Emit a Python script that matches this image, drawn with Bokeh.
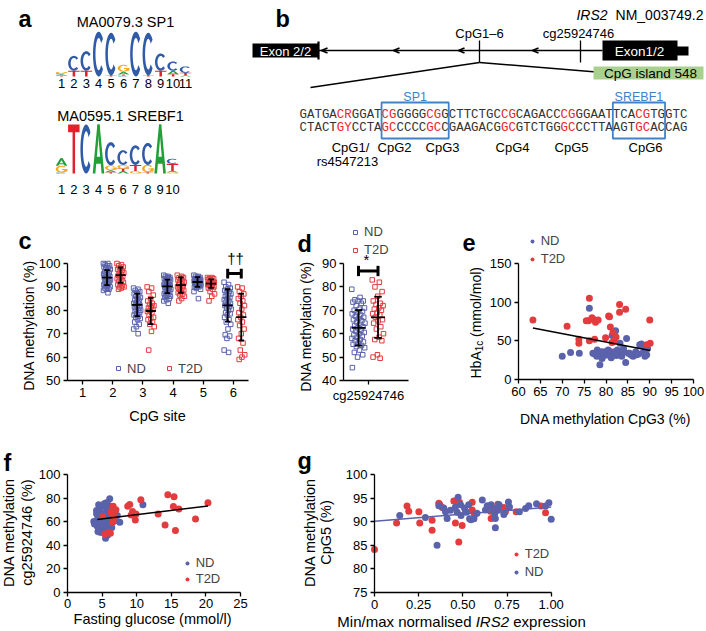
import numpy as np
from bokeh.plotting import figure
from bokeh.models import Range1d, Label, Legend, LegendItem, FixedTicker, LinearAxis
from bokeh.embed import file_html
from bokeh.resources import INLINE
from bokeh.core.properties import value

FONT = "Liberation Sans"
MONO = "Liberation Mono"
ND_C = "#5a62ab"
T2D_C = "#e33b3e"
LETTER_SIZE = "23.5px"

# ---------------- data ----------------
# (a) motif logos: letters stacked bottom->top and their heights in bits
sp1_title = "MA0079.3 SP1"
sp1_positions = [str(i) for i in range(1, 12)]
sp1_letters = ["TACG", "TC", "TC", "C", "TC", "CTAG", "C", "TC", "TC", "TAC", "ATC"]
sp1_bits = [[0.04, 0.05, 0.05, 0.06], [0.25, 0.65], [0.25, 0.85], [1.95], [0.05, 1.85],
            [0.04, 0.05, 0.12, 0.3], [1.95], [0.05, 1.85], [0.25, 0.75], [0.1, 0.15, 0.4],
            [0.04, 0.12, 0.28]]
srebf1_title = "MA0595.1 SREBF1"
srebf1_positions = [str(i) for i in range(1, 11)]
srebf1_letters = ["CGA", "T", "C", "A", "TAGC", "ATGC", "GTC", "TGC", "A", "GATC"]
srebf1_bits = [[0.04, 0.28, 0.3], [2.0], [2.0], [2.0], [0.05, 0.08, 0.2, 0.95],
               [0.1, 0.1, 0.15, 0.6], [0.1, 0.25, 0.8], [0.05, 0.3, 0.9], [2.0],
               [0.05, 0.05, 0.3, 0.2]]

# (b) sequence
seq_top = "GATGACRGGATCGGGGGCGGCTTCTGCCGCAGACCCGGGAATTCACGTGGTC"
seq_bottom = "CTACTGYCCTAGCCCCCGCCGAAGACGGCGTCTGGGCCCTTAAGTGCACCAG"
cpg_index = [5, 11, 17, 27, 35, 45]
cpg_names = ["CpG1/", "CpG2", "CpG3", "CpG4", "CpG5", "CpG6"]

# (c) DNA methylation per CpG site
c_sites = [1, 2, 3, 4, 5, 6]
c_data_sites = [2, 3, 4, 5, 6]
c_nd2 = [100, 100, 99.5, 99, 99, 98.5, 98, 98, 97.5, 97, 96.5, 96, 96, 95.5, 95, 95, 94.5, 94, 94,
         93.5, 93, 93, 92.5, 92, 92, 91.5, 91, 91, 90.5, 90, 90, 89.5, 89, 89, 88.5, 87.5]
c_nd3 = [89.5, 89, 88.5, 88, 87.5, 87, 86.5, 86, 85.5, 85, 84.5, 84, 83.5, 83, 83, 82.5, 82, 82,
         81.5, 81, 80.5, 80, 80, 79.5, 79, 78.5, 78, 77.5, 77, 76.5, 76, 75, 74, 73, 72, 70]
c_nd4 = [95, 94.5, 94.5, 94, 94, 93.5, 93.5, 93, 93, 92.5, 92, 92, 91.5, 91, 91, 90.5, 90.5, 90,
         90, 89.5, 89, 89, 88.5, 88, 88, 87.5, 87, 87, 86.5, 86, 86, 85.5, 85, 84.5, 84, 83]
c_nd5 = [95, 94.5, 94.5, 94, 94, 93.5, 93.5, 93.5, 93, 93, 93, 92.5, 92.5, 92.5, 92, 92, 92, 92,
         91.5, 91.5, 91.5, 91, 91, 91, 90.5, 90.5, 90, 90, 89.5, 89, 93, 92, 91, 90, 88, 85]
c_nd6 = [92, 91, 90, 89.5, 89, 88.5, 88, 87.5, 87, 86.5, 86, 85.5, 85, 84.5, 84, 83.5, 83, 82.5,
         82, 81.5, 81, 80.5, 80, 79, 78.5, 78, 77, 76, 75, 74, 72, 69.5, 69, 68, 63, 62]
c_t2d2 = [100, 99.5, 99, 98.5, 98, 97.5, 97, 96.5, 96, 95.5, 95, 94.5, 94, 93.5, 93, 92.5, 92,
          91.5, 91, 90.5, 90, 90, 89.5, 89]
c_t2d3 = [90, 89.5, 88, 86.5, 85, 84, 83, 82.5, 82, 81.5, 81, 80.5, 80, 79.5, 79, 78, 77, 76.5,
          76, 75, 74, 73, 71, 63]
c_t2d4 = [95, 94.5, 94, 94, 93.5, 93, 92.5, 92, 92, 91.5, 91, 90.5, 90, 90, 89.5, 89, 88.5, 88,
          87.5, 87, 86.5, 86, 85, 84]
c_t2d5 = [94, 94, 93.5, 93.5, 93, 93, 92.5, 92.5, 92, 92, 91.5, 91.5, 91, 91, 90.5, 90.5, 90, 90,
          89.5, 89, 88, 87, 86, 84]
c_t2d6 = [90, 89.5, 88, 87, 86, 85, 84, 83, 82, 80.5, 79, 78, 77, 76, 75, 73.5, 72, 70, 68, 66,
          63, 61, 60, 59]
c_nd_mean = [94.0, 82.3, 90.2, 92.1, 82.1]
c_nd_sd = [3.2, 4.8, 2.9, 2.1, 6.9]
c_t2d_mean = [95.0, 79.7, 90.8, 91.4, 77.1]
c_t2d_sd = [3.3, 5.6, 3.3, 1.8, 10.0]
c_yticks = [50, 60, 70, 80, 90, 100]
c_sig_site = 6
c_sig_y = 95.7
c_sig_text = "††"

# (d) cg25924746
d_site = ["cg25924746"]
d_nd = [79, 75.5, 74.5, 74, 74, 73.5, 73, 72, 71, 70.5, 70, 69.5, 69, 68.5, 68, 67.5, 67, 66.5,
        66, 65.5, 65, 64.5, 64, 63.5, 63, 62.5, 62, 61.5, 61, 60.5, 60, 59.5, 59, 58.5, 58, 57.5,
        57, 56.5, 56, 55.5, 55, 54.5, 54, 53, 52, 51, 50, 45.5]
d_t2d = [83, 82, 80, 78, 76, 74, 73, 72.5, 72, 71, 70.5, 70, 69, 68.5, 68, 67, 66, 65.5, 64.5,
         63, 62, 60, 58.5, 57.5, 57, 51, 50, 49.5]
d_nd_mean, d_nd_sd = 62.5, 7.6
d_t2d_mean, d_t2d_sd = 67.0, 8.8
d_yticks = [40, 50, 60, 70, 80, 90]
d_sig_y = 86.8
d_sig_text = "*"

# (e) HbA1c vs CpG3 methylation
e_nd_x = [70.0, 71.9, 73.9, 76.2, 77.0, 77.4, 77.9, 78.4, 78.6, 79.1, 79.6, 79.3, 79.8, 80.3, 80.7,
          81.0, 81.5, 81.9, 82.4, 82.9, 83.3, 83.6, 84.1, 81.4, 82.2, 82.6, 83.2, 84.7, 84.5, 85.1,
          85.7, 86.2, 86.8, 87.4, 87.7, 88.1, 88.5, 88.9, 89.3, 89.5, 88.4, 87.0, 85.4, 80.5, 81.2,
          82.0, 79.0, 78.0, 86.0, 84.0]
e_nd_y = [30, 35, 34, 92, 34, 33, 30, 31, 19, 27, 31, 35, 36, 33, 37, 30, 34, 36, 31, 35, 33, 30,
          36, 57, 63, 38, 47, 53, 22, 34, 32, 30, 36, 33, 45, 46, 35, 30, 32, 40, 44, 32, 34, 38,
          28, 32, 36, 38, 31, 40]
e_t2d_x = [63.3, 71.1, 73.8, 73.8, 75.5, 76.0, 76.2, 76.2, 76.8, 77.1, 77.6, 78.2, 77.4, 79.9,
           80.6, 80.8, 81.0, 81.6, 81.4, 81.9, 82.3, 83.1, 83.1, 84.5, 90.0, 90.1, 89.3]
e_t2d_y = [77, 69, 52, 47, 76, 76, 105, 50, 80, 78, 74, 77, 52, 54, 82, 81, 68, 61, 48, 51, 55,
           97, 87, 91, 77, 47, 45]
e_fit_x = [63.3, 90.1]
e_fit_y = [66.5, 37.5]
e_xticks = [60, 65, 70, 75, 80, 85, 90, 95, 100]
e_yticks = [0, 50, 100, 150]

# (f) cg25924746 vs fasting glucose
f_nd_x = [6.1, 4.5, 5.3, 5.6, 10.9, 4.2, 4.8, 5.25, 5.7, 4.3, 4.05, 4.5, 5.0, 5.35, 4.7, 4.4, 5.5,
          5.7, 6.2, 6.7, 7.56, 7.2, 6.2, 5.15, 4.7, 4.2, 3.8, 6.0, 5.7, 5.0, 4.6, 5.4, 5.9, 5.2,
          4.4, 5.6, 6.4, 4.9, 5.4, 4.3, 3.9, 5.8, 6.8, 4.9, 5.1]
f_nd_y = [79.3, 74.3, 75.1, 75.9, 74.2, 66.6, 68.0, 65.7, 67.1, 60.9, 59.5, 57.2, 55.2, 54.4,
          50.9, 51.5, 45.8, 52.3, 59.5, 62.3, 59.5, 65.1, 64.6, 62.3, 70.8, 69.4, 60.0, 73.6, 70.8,
          50.9, 58.5, 61.0, 57.0, 58.0, 63.5, 62.0, 55.0, 60.0, 64.0, 56.0, 58.0, 48.5, 60.5, 72.5,
          57.0]
f_t2d_x = [20.3, 14.5, 15.4, 15.3, 16.1, 18.5, 14.1, 15.6, 13.1, 10.6, 9.0, 8.7, 9.4, 9.9, 9.2,
           9.8, 6.6, 7.0, 6.6, 6.5, 6.0, 5.4, 6.2, 6.7, 6.3, 5.1]
f_t2d_y = [76.0, 82.7, 81.2, 72.9, 70.6, 62.1, 57.0, 52.4, 66.4, 78.5, 74.5, 73.0, 68.5, 66.4,
           65.6, 61.3, 73.0, 70.0, 60.8, 59.4, 50.8, 49.4, 50.0, 64.5, 68.0, 64.0]
f_fit_x = [4.3, 20.3]
f_fit_y = [61.8, 73.3]
f_xticks = [0, 5, 10, 15, 20, 25]
f_yticks = [0, 20, 40, 60, 80, 100]

# (g) CpG5 vs IRS2 expression
g_t2d_x = [0.0, 0.125, 0.184, 0.194, 0.251, 0.256, 0.326, 0.326, 0.364, 0.383, 0.449, 0.458,
           0.477, 0.481, 0.496, 0.515, 0.553, 0.553, 0.566, 0.562, 0.647, 0.656, 0.660, 0.698,
           0.732, 0.741, 0.802, 0.943, 0.968, 0.37]
g_t2d_y = [84.1, 89.7, 93.3, 92.2, 92.1, 89.7, 90.3, 88.2, 93.9, 93.0, 94.4, 89.7, 85.7, 94.1,
           89.2, 92.2, 94.1, 92.5, 91.4, 90.7, 93.2, 92.2, 90.7, 93.7, 93.0, 92.1, 92.1, 93.3,
           91.9, 93.6]
g_nd_x = [0.143, 0.288, 0.354, 0.364, 0.392, 0.402, 0.411, 0.458, 0.468, 0.473, 0.487, 0.490,
          0.509, 0.533, 0.538, 0.546, 0.562, 0.610, 0.628, 0.660, 0.671, 0.680, 0.684, 0.684,
          0.705, 0.758, 0.764, 0.820, 0.873, 0.917, 0.968, 0.987, 1.0, 0.732, 0.638, 0.52, 0.58,
          0.70, 0.855, 0.43]
g_nd_y = [91.3, 90.9, 85.0, 93.4, 92.9, 92.1, 90.7, 93.1, 92.0, 95.2, 93.6, 91.3, 92.9, 93.6,
          90.6, 90.4, 90.6, 94.6, 92.5, 93.6, 92.8, 91.7, 90.7, 88.7, 93.6, 94.2, 93.1, 92.1, 93.4,
          93.8, 93.3, 94.0, 90.5, 91.5, 93.4, 92.0, 91.8, 92.4, 92.8, 92.4]
g_fit_x = [0.0, 1.0]
g_fit_y = [90.1, 93.1]
g_xticks = [0, 0.25, 0.5, 0.75, 1.0]
g_tick_labels = ["0", "0.25", "0.50", "0.75", "1.00"]
g_yticks = [75, 80, 85, 90, 95, 100]

# ---------------- one page-sized canvas ----------------
# default ranges = picture pixel coordinates (y downwards)
W, H = 706, 631
FX0, FX1 = 0, W
FY0, FY1 = H, 0

p = figure(width=W, height=H, x_range=Range1d(FX0, FX1), y_range=Range1d(FY0, FY1),
           x_axis_type=None, y_axis_type=None, min_border=0, outline_line_color=None,
           output_backend="svg", toolbar_location=None, title=None)
p.grid.visible = False


def xr(d0, p0, d1, p1):
    k = (d1 - d0) / (p1 - p0)
    return Range1d(d0 + (FX0 - p0) * k, d0 + (FX1 - p0) * k)


def yr(d0, p0, d1, p1):
    k = (d1 - d0) / (p1 - p0)
    return Range1d(d0 + (FY0 - p0) * k, d0 + (FY1 - p0) * k)


p.extra_y_ranges = {
    "cy": yr(50, 380, 100, 263),
    "dy": yr(40, 380, 90, 263),
    "ey": yr(0, 379, 150, 263),
    "fy": yr(0, 591.7, 100, 474),
    "gy": yr(75, 592, 100, 474),
}
p.extra_x_ranges = {
    "cx": xr(0.5, 67, 6.5, 248),
    "dx": xr(-1.0, 343, 1.6, 408),
    "ex": xr(60, 518, 100, 693),
    "fx": xr(0, 67, 25, 240),
    "gx": xr(0, 374, 1.0, 550.7),
}


def lab(x, y, text, size="14.5px", angle=0, align="center", baseline="middle",
        style="normal", color="black"):
    p.add_layout(Label(x=x, y=y, text=text, angle=angle, text_font=FONT, text_font_size=size,
                       text_align=align, text_baseline=baseline, text_font_style=style,
                       text_color=color))


def style_axis(ax):
    ax.axis_line_color = "black"
    ax.axis_line_width = 1.3
    ax.major_tick_line_color = "black"
    ax.major_tick_line_width = 1.3
    ax.major_tick_out = 4
    ax.major_tick_in = 0
    ax.minor_tick_line_color = None
    ax.major_label_text_font = FONT
    ax.major_label_text_font_size = "13px"
    ax.major_label_text_color = "black"
    ax.major_label_standoff = 3


def add_axes(n, xloc, yloc, xb, yb, xticks, yticks):
    xa = LinearAxis(x_range_name=n + "x", y_range_name=n + "y", fixed_location=yloc, bounds=xb,
                    ticker=FixedTicker(ticks=xticks))
    ya = LinearAxis(x_range_name=n + "x", y_range_name=n + "y", fixed_location=xloc, bounds=yb,
                    ticker=FixedTicker(ticks=yticks))
    style_axis(xa)
    style_axis(ya)
    p.add_layout(xa, "below")
    p.add_layout(ya, "left")
    return xa, ya


def add_legend(items, left, bottom, orientation="vertical", spacing=3):
    lg = Legend(items=[LegendItem(label=t, renderers=[r]) for t, r in items],
                location=(left - FX0, FY0 - bottom), orientation=orientation, spacing=spacing,
                padding=0, margin=0, glyph_width=10, glyph_height=14, label_height=14,
                label_standoff=4, label_text_font=FONT, label_text_font_size="13px",
                border_line_color=None, background_fill_alpha=0)
    p.add_layout(lg)


def jit(n, width):
    return np.array([(((i * 0.6180339887) % 1.0) * 2 - 1) * width for i in range(n)])


# ---------------- panels a and b (diagram) ----------------
def ttext(x, y, txt, size="13px", color="black", align="center", baseline="middle",
          style="normal", font=FONT):
    p.text(x=x if isinstance(x, list) else [x], y=y if isinstance(y, list) else [y],
           text=txt if isinstance(txt, list) else [txt], text_font=value(font),
           text_font_size=size, text_color=color, text_align=align, text_baseline=baseline,
           text_font_style=style)


LETTER_COLORS = {"A": "#22a038", "C": "#2f5ba8", "G": "#f4aa1c", "T": "#e3212b"}


def ring(a0, a1, n=30):
    t = np.radians(np.linspace(a0, a1, n))
    ox = 0.5 + 0.5 * np.cos(t)
    oy = 0.5 + 0.5 * np.sin(t)
    ix = 0.5 + 0.28 * np.cos(t[::-1])
    iy = 0.5 + 0.36 * np.sin(t[::-1])
    return list(zip(np.r_[ox, ix], np.r_[oy, iy]))


SHAPES = {
    "T": [[(0, 1), (1, 1), (1, 0.84), (0.61, 0.84), (0.61, 0), (0.39, 0), (0.39, 0.84),
           (0, 0.84)]],
    "A": [[(0, 0), (0.4, 1), (0.6, 1), (0.23, 0)], [(1, 0), (0.6, 1), (0.4, 1), (0.77, 0)],
          [(0.22, 0.2), (0.78, 0.2), (0.73, 0.34), (0.27, 0.34)]],
    "C": [ring(42, 318)],
    "G": [ring(40, 360), [(0.55, 0.38), (1, 0.38), (1, 0.52), (0.55, 0.52)],
          [(0.8, 0.12), (1, 0.12), (1, 0.52), (0.8, 0.52)]],
}


def draw_logo(letters, bits, x_first, x_step, base_y, px_per_bit, width):
    xs, ys, cols = [], [], []
    for i, (lets, hs) in enumerate(zip(letters, bits)):
        xc = x_first + i * x_step
        y = base_y
        for ch, h in zip(lets, hs):
            hp = h * px_per_bit
            for poly in SHAPES[ch]:
                xs.append([xc - width / 2 + px * width for px, py in poly])
                ys.append([y - py * hp for px, py in poly])
                cols.append(LETTER_COLORS[ch])
            y -= hp
    p.patches(xs, ys, fill_color=cols, line_color=None)


ttext([18, 275], [18.5, 18.5], ["a", "b"], size=LETTER_SIZE, style="bold", align="left",
      baseline="alphabetic")

ttext(125, 21, sp1_title, size="14.5px")
draw_logo(sp1_letters, sp1_bits, 61, 12.4, 76, 23, 11.5)
ttext([61 + i * 12.4 for i in range(len(sp1_positions))], [83] * len(sp1_positions),
      sp1_positions, size="13px")
ttext(120, 115, srebf1_title, size="14.5px")
draw_logo(srebf1_letters, srebf1_bits, 61, 12.33, 173, 24.5, 11.5)
ttext([61 + i * 12.33 for i in range(len(srebf1_positions))], [189] * len(srebf1_positions),
      srebf1_positions, size="13px")

# gene model
ttext(703, 14, "NM_003749.2", size="14px", align="right")
ttext(607, 14, "IRS2", size="14px", align="right", style="italic")
p.segment(x0=[318], y0=[50], x1=[602], y1=[50], line_color="black", line_width=1.3)
arrow_x = [321, 393, 458, 532]
p.segment(x0=arrow_x * 2, y0=[50] * 8, x1=[a + 6 for a in arrow_x] * 2,
          y1=[47.5] * 4 + [52.5] * 4, line_color="black", line_width=1.6)
p.quad(left=[252, 602, 676], right=[318, 677, 688], top=[43, 40, 46], bottom=[57, 60, 55],
       fill_color="black", line_color=None)
p.segment(x0=[318], y0=[41], x1=[318], y1=[59], line_color="black", line_width=2.2)
ttext(285, 50.5, "Exon 2/2", size="13px", color="white")
ttext(639, 50.5, "Exon1/2", size="13.5px", color="white")
p.segment(x0=[479, 580], y0=[40, 40], x1=[479, 580], y1=[62, 62], line_color="black",
          line_width=1.3)
ttext(479, 33, "CpG1–6", size="13px")
ttext(578, 33, "cg25924746", size="13px")
p.segment(x0=[479, 479], y0=[62, 62], x1=[310, 663], y1=[87, 77], line_color="black",
          line_width=1.4)
p.quad(left=[593], right=[703], top=[66], bottom=[79], fill_color="#a9d18e", line_color=None)
ttext(650, 73, "CpG island 548", size="13.5px")

# sequence
CW = 7.46
SX = 299
red_set = set()
for k in cpg_index:
    red_set.update([k, k + 1])
seq_cols = ["#e8262b" if i in red_set else "#333333" for i in range(len(seq_top))]
xs_seq = [SX + (i + 0.5) * CW for i in range(len(seq_top))]
for seq, yy in ((seq_top, 114), (seq_bottom, 127)):
    p.text(x=xs_seq, y=[yy] * len(seq), text=list(seq), text_font=value(MONO),
           text_font_size="12.4px", text_color=seq_cols, text_align="center",
           text_baseline="middle")
BOX_C = "#3f82c8"
p.quad(left=[SX + 11 * CW, SX + 42 * CW], right=[SX + 20 * CW, SX + 49 * CW],
       top=[102, 102], bottom=[138, 138], fill_color=None, line_color=BOX_C, line_width=1.8)
ttext(SX + 15.5 * CW, 96, "SP1", size="12.5px", color=BOX_C)
ttext(SX + 45.5 * CW, 96, "SREBF1", size="12.5px", color=BOX_C)
cpg_label_x = [350, 394, 442, 512, 571, 645]
ttext(cpg_label_x, [147] * 6, cpg_names, size="13px")
ttext(347, 161, "rs4547213", size="13px")


def errbars(n, xc, means, sds, half_mean, half_cap, lw=1.8):
    xc = np.asarray(xc, float)
    m = np.asarray(means, float)
    s = np.asarray(sds, float)
    kw = dict(line_color="black", line_width=lw, x_range_name=n + "x", y_range_name=n + "y")
    p.segment(x0=xc, y0=m - s, x1=xc, y1=m + s, **kw)
    p.segment(x0=xc - half_mean, y0=m, x1=xc + half_mean, y1=m, **kw)
    p.segment(x0=np.r_[xc, xc] - half_cap, y0=np.r_[m - s, m + s], x1=np.r_[xc, xc] + half_cap,
              y1=np.r_[m - s, m + s], **kw)


# ---------------- (c) ----------------
add_axes("c", 0.5, 50, (0.5, 6.5), (50, 100), c_sites, c_yticks)
ND_OFF, T2D_OFF = -0.19, 0.26
nd_groups = [c_nd2, c_nd3, c_nd4, c_nd5, c_nd6]
t2d_groups = [c_t2d2, c_t2d3, c_t2d4, c_t2d5, c_t2d6]
cx_nd, cy_nd, cx_t, cy_t = [], [], [], []
for s, g in zip(c_data_sites, nd_groups):
    cx_nd += list(s + ND_OFF + jit(len(g), 0.12))
    cy_nd += g
for s, g in zip(c_data_sites, t2d_groups):
    cx_t += list(s + T2D_OFF + jit(len(g), 0.12))
    cy_t += g
r_c_nd = p.scatter(cx_nd, cy_nd, marker="square", size=4.5, fill_color=None, line_color=ND_C,
                   line_width=1, x_range_name="cx", y_range_name="cy")
r_c_t = p.scatter(cx_t, cy_t, marker="square", size=4.5, fill_color=None, line_color=T2D_C,
                  line_width=1, x_range_name="cx", y_range_name="cy")
errbars("c", [s + ND_OFF for s in c_data_sites], c_nd_mean, c_nd_sd, 0.17, 0.09)
errbars("c", [s + T2D_OFF for s in c_data_sites], c_t2d_mean, c_t2d_sd, 0.17, 0.09)
bx0, bx1 = c_sig_site + ND_OFF, c_sig_site + T2D_OFF
p.segment(x0=[bx0, bx0, bx1], y0=[c_sig_y, c_sig_y - 2.1, c_sig_y - 2.1],
          x1=[bx1, bx0, bx1], y1=[c_sig_y, c_sig_y + 2.1, c_sig_y + 2.1],
          line_color="black", line_width=3, x_range_name="cx", y_range_name="cy")
lab(235, 258, c_sig_text, size="15px")
lab(18, 240, "c", size=LETTER_SIZE, style="bold", align="left", baseline="alphabetic")
lab(28, 325, "DNA methylation (%)", size="14px", angle=np.pi / 2)
lab(157, 415, "CpG site", size="14.5px")
add_legend([("ND", r_c_nd), ("T2D", r_c_t)], 113, 375.5, orientation="horizontal", spacing=17)

# ---------------- (d) ----------------
dxa, dya = add_axes("d", -1.0, 40, (-1.0, 1.6), (40, 90), [0], d_yticks)
dxa.major_label_overrides = {0: d_site[0]}
D_ND, D_T = -0.4, 0.38
r_d_nd = p.scatter(D_ND + jit(len(d_nd), 0.27), d_nd, marker="square", size=4.5,
                   fill_color=None, line_color=ND_C, line_width=1, x_range_name="dx",
                   y_range_name="dy")
r_d_t = p.scatter(D_T + jit(len(d_t2d), 0.23), d_t2d, marker="square", size=4.5,
                  fill_color=None, line_color=T2D_C, line_width=1, x_range_name="dx",
                  y_range_name="dy")
errbars("d", [D_ND, D_T], [d_nd_mean, d_t2d_mean], [d_nd_sd, d_t2d_sd], 0.28, 0.15)
p.segment(x0=[D_ND, D_ND, D_T], y0=[d_sig_y, d_sig_y - 2.2, d_sig_y - 2.2],
          x1=[D_T, D_ND, D_T], y1=[d_sig_y, d_sig_y + 2.2, d_sig_y + 2.2],
          line_color="black", line_width=3, x_range_name="dx", y_range_name="dy")
lab(366, 259, d_sig_text, size="15px")
lab(297, 243, "d", size=LETTER_SIZE, style="bold", align="left", baseline="alphabetic")
lab(305, 326, "DNA methylation (%)", size="14px", angle=np.pi / 2)
add_legend([("ND", r_d_nd), ("T2D", r_d_t)], 350, 257, spacing=3)

# ---------------- (e) ----------------
add_axes("e", 60, 0, (60, 100), (0, 150), e_xticks, e_yticks)
r_e_nd = p.scatter(e_nd_x, e_nd_y, size=7, fill_color=ND_C, line_color=None,
                   x_range_name="ex", y_range_name="ey")
r_e_t = p.scatter(e_t2d_x, e_t2d_y, size=7, fill_color=T2D_C, line_color=None,
                  x_range_name="ex", y_range_name="ey")
p.line(e_fit_x, e_fit_y, line_color="black", line_width=1.5, x_range_name="ex",
       y_range_name="ey")
lab(475, 378, "HbA", size="14px", angle=np.pi / 2, align="left")
lab(479, 350.8, "1c", size="10px", angle=np.pi / 2, align="left")
lab(475, 336.5, "(mmol/mol)", size="14px", angle=np.pi / 2, align="left")
lab(605, 418, "DNA methylation CpG3 (%)", size="14px")
lab(462, 242, "e", size=LETTER_SIZE, style="bold", align="left", baseline="alphabetic")
add_legend([("ND", r_e_nd), ("T2D", r_e_t)], 526.7, 266, spacing=3)

# ---------------- (f) ----------------
add_axes("f", 0, 0, (0, 25), (0, 100), f_xticks, f_yticks)
r_f_nd = p.scatter(f_nd_x, f_nd_y, size=7, fill_color=ND_C, line_color=None,
                   x_range_name="fx", y_range_name="fy")
r_f_t = p.scatter(f_t2d_x, f_t2d_y, size=7, fill_color=T2D_C, line_color=None,
                  x_range_name="fx", y_range_name="fy")
p.line(f_fit_x, f_fit_y, line_color="black", line_width=1.5, x_range_name="fx",
       y_range_name="fy")
lab(8, 532, "DNA methylation", size="14.5px", angle=np.pi / 2)
lab(26, 532, "cg25924746 (%)", size="14.5px", angle=np.pi / 2)
lab(152, 618, "Fasting glucose (mmol/l)", size="14.5px")
lab(3, 462, "f", size=LETTER_SIZE, style="bold", align="left", baseline="alphabetic")
add_legend([("ND", r_f_nd), ("T2D", r_f_t)], 181.7, 586.3, spacing=1)

# ---------------- (g) ----------------
gxa, gya = add_axes("g", 0, 75, (0, 1.0), (75, 100), g_xticks, g_yticks)
gxa.major_label_overrides = dict(zip(g_xticks, g_tick_labels))
r_g_t = p.scatter(g_t2d_x, g_t2d_y, size=7, fill_color=T2D_C, line_color=None,
                  x_range_name="gx", y_range_name="gy")
r_g_nd = p.scatter(g_nd_x, g_nd_y, size=7, fill_color=ND_C, line_color=None,
                   x_range_name="gx", y_range_name="gy")
p.line(g_fit_x, g_fit_y, line_color=ND_C, line_width=1.5, x_range_name="gx",
       y_range_name="gy")
lab(309, 532, "DNA methylation", size="14.5px", angle=np.pi / 2)
lab(325, 532, "CpG5 (%)", size="14.5px", angle=np.pi / 2)
lab(336.8, 621, "Min/max normalised", size="15px", align="left")
lab(475.2, 621, "IRS2", size="15px", align="left", style="italic")
lab(512.7, 621, "expression", size="15px", align="left")
lab(297, 460, "g", size=LETTER_SIZE, style="bold", align="left", baseline="alphabetic")
add_legend([("T2D", r_g_t), ("ND", r_g_nd)], 510.7, 579.3, spacing=3)

open("out.html", "w").write(file_html(p, INLINE))
